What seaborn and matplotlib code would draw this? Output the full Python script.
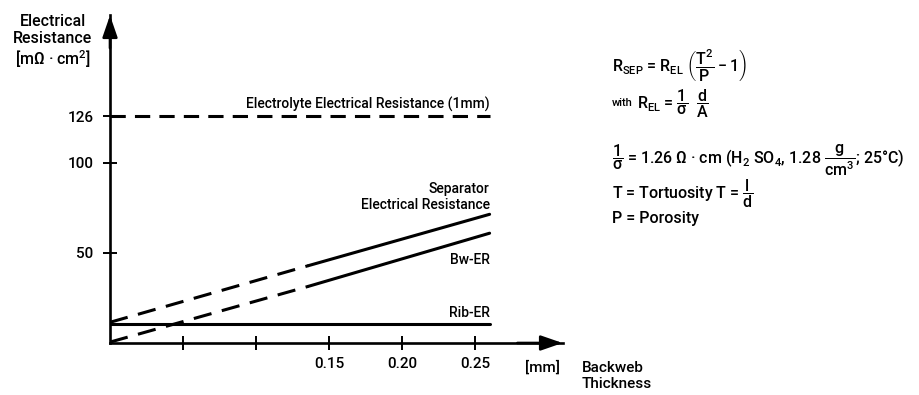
import matplotlib
matplotlib.use("Agg")
import matplotlib.pyplot as plt
from matplotlib import font_manager
import seaborn as sns
import pandas as pd

# Backweb thickness [mm]: start, end of extrapolated (dashed) part, end of measured part
thickness = [0.0, 0.136, 0.26]
separator_er = [11.5, 43.0, 71.5]
backweb_er = [0.5, 31.5, 61.0]
rib_er = [10.5, 10.5, 10.5]
electrolyte_er = [126.0, 126.0, 126.0]

y_ticks = [50, 100, 126]
x_ticks = [0.05, 0.10, 0.15, 0.20, 0.25]
x_tick_labels = ["", "", "0.15", "0.20", "0.25"]

sns.set_theme(style="white")
available = {f.name for f in font_manager.fontManager.ttflist}
main_font = "Roboto" if "Roboto" in available else "DejaVu Sans"
plt.rcParams["font.family"] = [main_font, "DejaVu Sans"]
plt.rcParams["font.weight"] = "medium"
plt.rcParams["mathtext.fontset"] = "custom"
plt.rcParams["mathtext.rm"] = main_font + ":medium"
plt.rcParams["mathtext.it"] = main_font + ":medium"
plt.rcParams["mathtext.bf"] = main_font + ":bold"

W, H = 919, 395
fig = plt.figure(figsize=(W / 100, H / 100), dpi=100)
fig.patch.set_facecolor("white")

x0, y0 = 110, 343          # axis origin in pixels
px_per_mm = 1460.0
px_per_unit = 1.8
x_max = 0.31
y_max = 182
ax = fig.add_axes([x0 / W, (H - y0) / H, x_max * px_per_mm / W, y_max * px_per_unit / H])
ax.set_facecolor("white")

df = pd.DataFrame({
    "thickness": thickness,
    "separator": separator_er,
    "backweb": backweb_er,
    "rib": rib_er,
    "electrolyte": electrolyte_er,
})
dash_part = df.iloc[:2]
solid_part = df.iloc[1:]

lw = 2.2
dash_style = (0, (5, 3))
for col in ["separator", "backweb"]:
    sns.lineplot(data=dash_part, x="thickness", y=col, ax=ax, color="black",
                 lw=lw, linestyle=(0, (6, 3.5)), legend=False)
    sns.lineplot(data=solid_part, x="thickness", y=col, ax=ax, color="black",
                 lw=lw, legend=False)
sns.lineplot(data=df, x="thickness", y="rib", ax=ax, color="black", lw=lw, legend=False)
sns.lineplot(data=df, x="thickness", y="electrolyte", ax=ax, color="black",
             lw=lw, linestyle=dash_style, legend=False)

ax.set_xlim(0, x_max)
ax.set_ylim(0, y_max)
ax.set_xlabel("")
ax.set_ylabel("")
for side in ["top", "right"]:
    ax.spines[side].set_visible(False)
for side in ["left", "bottom"]:
    ax.spines[side].set_color("black")
    ax.spines[side].set_linewidth(1.9)

fs = 11
ax.set_xticks(x_ticks)
ax.set_xticklabels(x_tick_labels)
ax.set_yticks(y_ticks)
ax.set_yticklabels([str(v) for v in y_ticks])
ax.tick_params(axis="both", direction="inout", length=10, width=1.4, color="black",
               labelsize=fs, labelcolor="black", left=True, bottom=True)
ax.tick_params(axis="x", pad=5)
ax.tick_params(axis="y", pad=7)

# arrow heads on both axes
arrow = dict(arrowstyle="-|>,head_length=1.1,head_width=0.38", color="black",
             lw=1.9, shrinkA=0, shrinkB=0)
ax.annotate("", xy=(0, 1.0), xytext=(0, 0.9), xycoords="axes fraction", arrowprops=arrow)
ax.annotate("", xy=(1.0, 0), xytext=(0.9, 0), xycoords="axes fraction", arrowprops=arrow)

# curve labels
end = thickness[-1]
lab_fs = 10
ax.annotate("Electrolyte Electrical Resistance (1mm)", xy=(end, electrolyte_er[-1]),
            xytext=(0, 3), textcoords="offset points", ha="right", va="bottom",
            fontsize=lab_fs, color="black")
ax.annotate("Separator\nElectrical Resistance", xy=(end, separator_er[-1]),
            xytext=(0, 2), textcoords="offset points", ha="right", va="bottom",
            fontsize=lab_fs, color="black", multialignment="right", linespacing=1.1)
ax.annotate("Bw-ER", xy=(end, backweb_er[-1]), xytext=(0, -19), textcoords="offset points",
            ha="right", va="center", fontsize=lab_fs, color="black")
ax.annotate("Rib-ER", xy=(end, rib_er[-1]), xytext=(0, 8), textcoords="offset points",
            ha="right", va="center", fontsize=lab_fs, color="black")


def fx(px):
    return px / W


def fy(py):
    return 1 - py / H


# axis titles
fig.text(fx(53), fy(14), "Electrical\nResistance\n[m$\\Omega$ · cm$^2$]", ha="center", va="top",
         fontsize=11.5, linespacing=1.15, color="black")
fig.text(fx(543), fy(367), "[mm]", ha="center", va="center", fontsize=11, color="black")
fig.text(fx(582), fy(376), "Backweb\nThickness", ha="left", va="center", fontsize=11,
         linespacing=1.1, color="black")

# formulas
eq_fs = 11.5
fig.text(fx(612), fy(65),
         r"$\mathrm{R_{SEP}}$ = $\mathrm{R_{EL}}$ $\left(\dfrac{\mathrm{T}^2}{\mathrm{P}}-1\right)$",
         ha="left", va="center", fontsize=eq_fs, color="black")
fig.text(fx(612), fy(103), "with", ha="left", va="center", fontsize=8, color="black")
fig.text(fx(637), fy(104), r"$\mathrm{R_{EL}}$ = $\dfrac{1}{\sigma}$  $\dfrac{\mathrm{d}}{\mathrm{A}}$",
         ha="left", va="center", fontsize=eq_fs, color="black")
fig.text(fx(612), fy(160),
         r"$\dfrac{1}{\sigma}$ = 1.26 $\Omega$ · cm (H$_2$ SO$_4$, 1.28 $\dfrac{\mathrm{g}}{\mathrm{cm}^3}$; 25°C)",
         ha="left", va="center", fontsize=eq_fs, color="black")
fig.text(fx(612), fy(194), r"T = Tortuosity T = $\dfrac{\mathrm{l}}{\mathrm{d}}$",
         ha="left", va="center", fontsize=eq_fs, color="black")
fig.text(fx(612), fy(218), "P = Porosity", ha="left", va="center", fontsize=eq_fs, color="black")

fig.savefig("out.png", dpi=100, facecolor="white")
